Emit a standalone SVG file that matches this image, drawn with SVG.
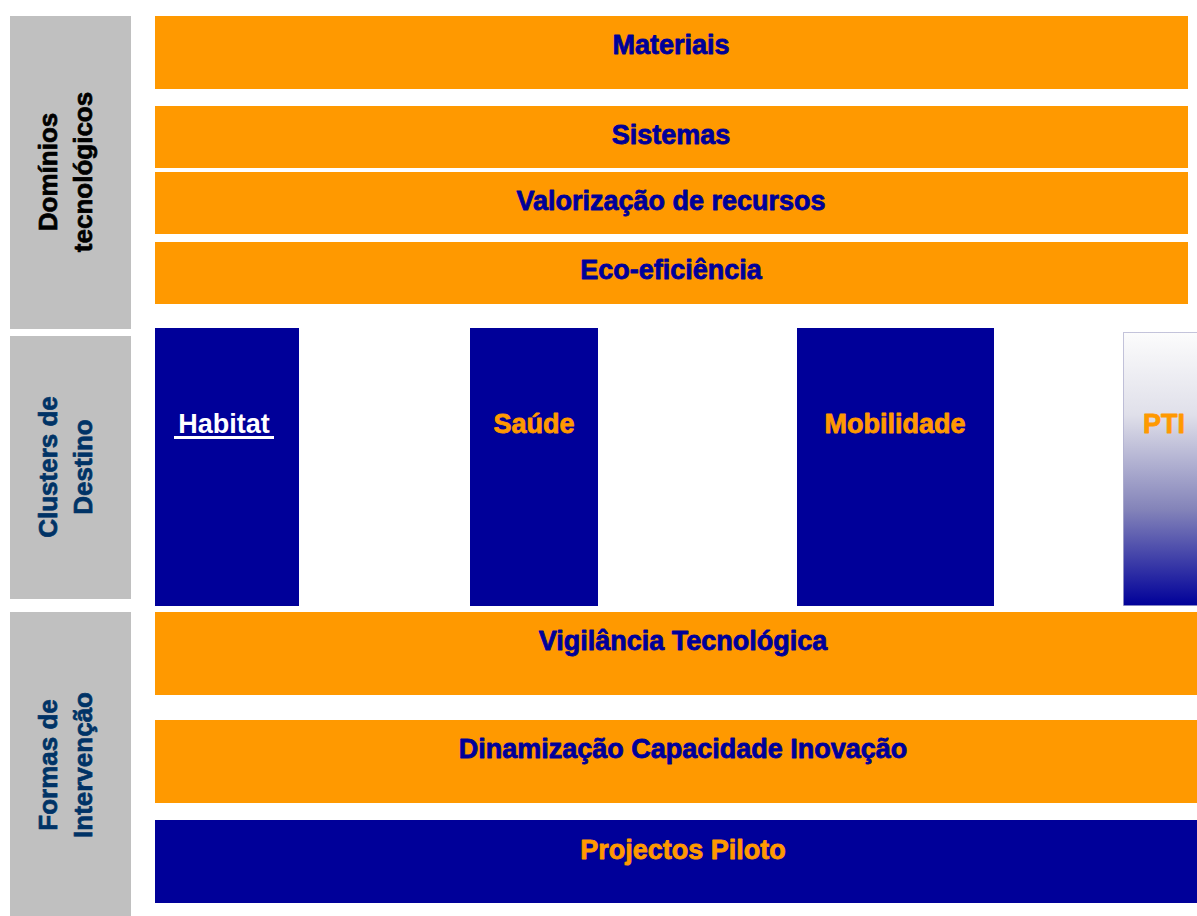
<svg xmlns="http://www.w3.org/2000/svg" width="1197" height="916" viewBox="0 0 1197 916">
<defs>
<linearGradient id="ptiGrad" x1="0" y1="0" x2="0" y2="1">
<stop offset="0" stop-color="#fcfcfc"/>
<stop offset="0.3" stop-color="#e0e0ea"/>
<stop offset="0.65" stop-color="#8383b9"/>
<stop offset="1" stop-color="#000099"/>
</linearGradient>
<style>
.grey{fill:#c0c0c0}
.orange{fill:#ff9900}
.blue{fill:#000099}
.t{font-family:"Liberation Sans",Arial,sans-serif;font-weight:bold;font-size:27px;text-anchor:middle;stroke-width:0.8px;stroke-linejoin:round}
.tb{fill:#000099;stroke:#000099}
.to{fill:#ff9900;stroke:#ff9900}
.tw{fill:#ffffff;stroke:none}
.side{font-family:"Liberation Sans",Arial,sans-serif;font-weight:bold;font-size:26px;text-anchor:middle;stroke-width:0.7px;stroke-linejoin:round}
.sk{fill:#000000;stroke:#000000}
.sn{fill:#003366;stroke:#003366}
</style>
</defs>
<rect width="1197" height="916" fill="#ffffff"/>
<g id="label-dominios">
<rect class="grey" x="10" y="16" width="121" height="313"/>
<text class="side sk" transform="translate(57,172) rotate(-90)">Domínios</text>
<text class="side sk" transform="translate(92,172) rotate(-90)">tecnológicos</text>
</g>
<g id="label-clusters">
<rect class="grey" x="10" y="336" width="121" height="263"/>
<text class="side sn" transform="translate(57,467) rotate(-90)">Clusters de</text>
<text class="side sn" transform="translate(92,467) rotate(-90)">Destino</text>
</g>
<g id="label-formas">
<rect class="grey" x="10" y="612" width="121" height="304"/>
<text class="side sn" transform="translate(57,765) rotate(-90)">Formas de</text>
<text class="side sn" transform="translate(92,765) rotate(-90)">Intervenção</text>
</g>
<g id="materiais">
<rect class="orange" x="155" y="16" width="1033" height="73"/>
<text class="t tb" x="671" y="54">Materiais</text>
</g>
<g id="sistemas">
<rect class="orange" x="155" y="106" width="1033" height="62"/>
<text class="t tb" x="671" y="144">Sistemas</text>
</g>
<g id="valorizacao">
<rect class="orange" x="155" y="172" width="1033" height="62"/>
<text class="t tb" x="671" y="210">Valorização de recursos</text>
</g>
<g id="eco">
<rect class="orange" x="155" y="242" width="1033" height="62"/>
<text class="t tb" x="671" y="279">Eco-eficiência</text>
</g>
<g id="habitat">
<rect class="blue" x="155" y="328" width="144" height="278"/>
<text class="t tw" x="224" y="433">Habitat</text>
<rect fill="#ffffff" x="174" y="436" width="100" height="3"/>
</g>
<g id="saude">
<rect class="blue" x="470" y="328" width="128" height="278"/>
<text class="t to" x="534" y="433">Saúde</text>
</g>
<g id="mobilidade">
<rect class="blue" x="797" y="328" width="197" height="278"/>
<text class="t to" x="895" y="433">Mobilidade</text>
</g>
<g id="pti">
<rect x="1123.5" y="332.5" width="75" height="273" fill="url(#ptiGrad)" stroke="#8a8ab8" stroke-opacity="0.5" stroke-width="1"/>
<text class="t to" x="1164" y="433">PTI</text>
</g>
<g id="vigilancia">
<rect class="orange" x="155" y="612" width="1042" height="83"/>
<text class="t tb" x="683" y="650">Vigilância Tecnológica</text>
</g>
<g id="dinamizacao">
<rect class="orange" x="155" y="720" width="1042" height="83"/>
<text class="t tb" x="683" y="758">Dinamização Capacidade Inovação</text>
</g>
<g id="projectos">
<rect class="blue" x="155" y="820" width="1042" height="83"/>
<text class="t to" x="683" y="859">Projectos Piloto</text>
</g>
<g id="connectors"/>
</svg>
